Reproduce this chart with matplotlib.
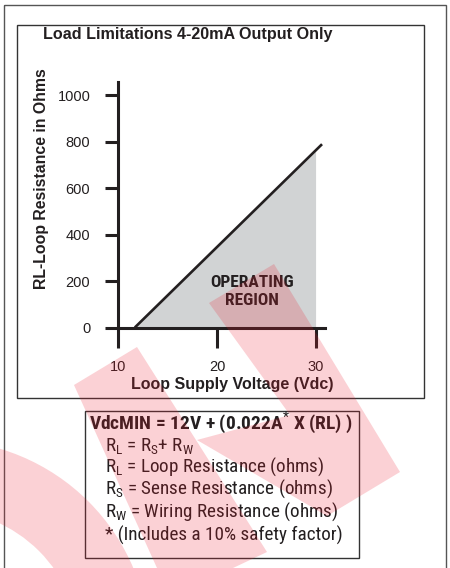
import matplotlib
matplotlib.use("Agg")
import matplotlib.pyplot as plt
from matplotlib import font_manager as fm
from matplotlib.patches import Rectangle, Polygon, Wedge

# ---- data ----
voltage_line = [11.7, 30.6]          # Vdc
resistance_line = [0, 790]           # ohms
region_voltage = [11.7, 30.0, 30.0]  # shaded operating region
region_resistance = [0, 757, 0]
x_ticks = [10, 20, 30]
y_ticks = [0, 200, 400, 600, 800, 1000]

title = "Load Limitations 4-20mA Output Only"
xlabel = "Loop Supply Voltage (Vdc)"
ylabel = "RL-Loop Resistance in Ohms"
region_label = ["OPERATING", "REGION"]
formula_head = "VdcMIN = 12V + (0.022A$^{*}$ X (RL) )"
formula_lines = [
    r"R$_{\mathrm{L}}$ = R$_{\mathrm{S}}$+ R$_{\mathrm{W}}$",
    r"R$_{\mathrm{L}}$ = Loop Resistance (ohms)",
    r"R$_{\mathrm{S}}$ = Sense Resistance (ohms)",
    r"R$_{\mathrm{W}}$ = Wiring Resistance (ohms)",
    "* (Includes a 10% safety factor)",
]

INK = "#231f20"
GRAY = "#d1d3d4"
W, H = 450, 568

available = {f.name for f in fm.fontManager.ttflist}
def pick(cands, default="DejaVu Sans"):
    for c in cands:
        if c in available:
            return c
    return default

COND = pick(["Roboto Condensed", "Liberation Sans Narrow", "Archivo Narrow",
             "Barlow Semi Condensed", "Asap Condensed"])
COND_B = pick(["Roboto Condensed", "Liberation Sans Narrow",
               "Barlow Semi Condensed", "Asap Condensed"])
SANS = pick(["Liberation Sans", "Arimo", "DejaVu Sans"])

plt.rcParams["mathtext.fontset"] = "custom"
plt.rcParams["mathtext.rm"] = COND
plt.rcParams["mathtext.it"] = COND
plt.rcParams["mathtext.bf"] = COND_B + ":bold"

fig = plt.figure(figsize=(W / 100, H / 100), dpi=100)

# background overlay in pixel coords
bg = fig.add_axes([0, 0, 1, 1])
bg.set_xlim(0, W)
bg.set_ylim(H, 0)
bg.axis("off")
bg.set_zorder(0)
bg.add_patch(Rectangle((4, 5), 442, 580, fill=False, ec="#555555", lw=1.0))
bg.add_patch(Rectangle((17, 25), 407, 373, fill=False, ec="#333333", lw=1.0))
bg.add_patch(Rectangle((85, 411), 274, 147, fill=False, ec="#333333", lw=1.0))

# chart axes
L, R_, T, B = 118, 325, 82, 327.5
ax = fig.add_axes([L / W, 1 - B / H, (R_ - L) / W, (B - T) / H])
ax.set_zorder(1)
ax.patch.set_alpha(0)
ax.set_xlim(10, 30.9)
ax.set_ylim(0, 1058)
ax.fill(region_voltage, region_resistance, color=GRAY, lw=0, zorder=1)
ax.plot(voltage_line, resistance_line, color=INK, lw=1.9, solid_capstyle="butt", zorder=2)
for s in ["top", "right"]:
    ax.spines[s].set_visible(False)
for s in ["left", "bottom"]:
    ax.spines[s].set_linewidth(2.2)
    ax.spines[s].set_color(INK)
ax.set_xticks(x_ticks)
ax.set_yticks(y_ticks)
ax.tick_params(axis="y", direction="out", length=9.4, width=2.2, color=INK,
               labelsize=10.5, labelcolor=INK, pad=10.5)
ax.tick_params(axis="x", direction="out", length=14.4, width=2.2, color=INK,
               labelsize=10.5, labelcolor=INK, pad=9)
for lab in ax.get_xticklabels() + ax.get_yticklabels():
    lab.set_fontfamily(SANS)

ax.text(23.54, 196, region_label[0], ha="center", va="center", fontsize=12.5,
        fontweight="bold", family=COND_B, color=INK, zorder=3)
ax.text(23.54, 118, region_label[1], ha="center", va="center", fontsize=12.5,
        fontweight="bold", family=COND_B, color=INK, zorder=3)

def fx(px):
    return px / W

def fy(py):
    return 1 - py / H

fig.text(fx(43), fy(35), title, ha="left", va="center", fontsize=11.6,
         fontweight="bold", family=SANS, color=INK)
fig.text(fx(232.5), fy(385), xlabel, ha="center", va="center", fontsize=11.5,
         fontweight="bold", family=SANS, color=INK)
fig.text(fx(42), fy(178.5), ylabel, ha="center", va="center", rotation=90,
         fontsize=11.4, fontweight="bold", family=SANS, color=INK)

fig.text(fx(89), fy(423), formula_head, ha="left", va="center", fontsize=14,
         fontweight="bold", family=COND_B, color=INK)
line_y = [446, 467, 489, 512, 535]
for yy, t in zip(line_y, formula_lines):
    fig.text(fx(105), fy(yy), t, ha="left", va="center", fontsize=13.8,
             family=COND, color=INK)

# watermark overlay
wm = fig.add_axes([0, 0, 1, 1])
wm.set_xlim(0, W)
wm.set_ylim(H, 0)
wm.axis("off")
wm.set_zorder(5)
wm.patch.set_alpha(0)
RED = (0.93, 0.11, 0.18)
polys = [
    [(74, 385), (137, 347), (267, 552), (233, 568), (157, 568)],
    [(209, 303), (274, 264), (400, 472), (327, 516), (197, 440), (290, 415)],
]
for p in polys:
    wm.add_patch(Polygon(p, closed=True, fc=RED, ec="none", alpha=0.2))
wm.add_patch(Wedge((-60, 650), 210, 270, 360, width=70, fc=RED, ec="none", alpha=0.2))

fig.savefig("out.png", dpi=100)
